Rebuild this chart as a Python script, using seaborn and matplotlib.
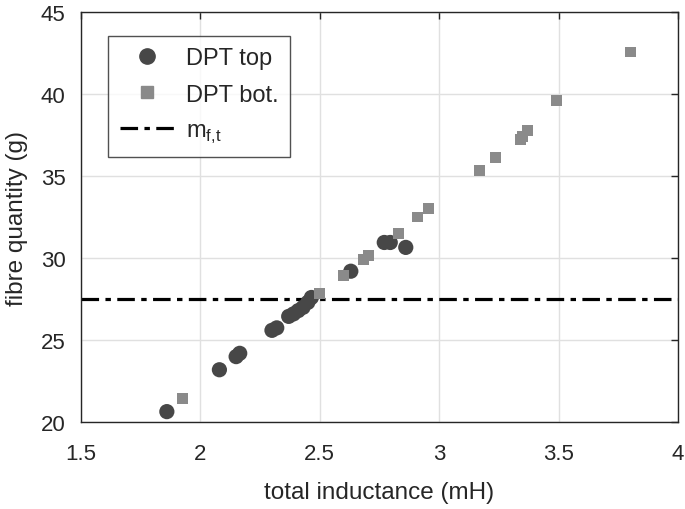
import matplotlib
matplotlib.use('Agg')
import matplotlib.pyplot as plt
import pandas as pd
import seaborn as sns

# Datos
top_inductance = [1.86, 2.08, 2.15, 2.165, 2.30, 2.32, 2.37, 2.39, 2.41, 2.43, 2.45, 2.465, 2.63, 2.77, 2.795, 2.86]
top_fibre = [20.65, 23.2, 24.0, 24.2, 25.6, 25.75, 26.45, 26.6, 26.8, 27.0, 27.3, 27.6, 29.2, 30.95, 30.95, 30.65]

bot_inductance = [1.925, 2.50, 2.60, 2.685, 2.705, 2.83, 2.91, 2.955, 3.17, 3.235, 3.34, 3.35, 3.37, 3.49, 3.80]
bot_fibre = [21.45, 27.85, 28.95, 29.9, 30.15, 31.5, 32.5, 33.0, 35.35, 36.1, 37.2, 37.4, 37.75, 39.6, 42.55]

m_ft = 27.5

df = pd.concat([
    pd.DataFrame({'inductance': top_inductance, 'fibre': top_fibre, 'serie': 'DPT top'}),
    pd.DataFrame({'inductance': bot_inductance, 'fibre': bot_fibre, 'serie': 'DPT bot.'}),
])

sns.set_style('white')
plt.rcParams['font.family'] = ['Liberation Sans', 'DejaVu Sans']
plt.rcParams['mathtext.fontset'] = 'custom'
plt.rcParams['mathtext.rm'] = 'Liberation Sans'

fig = plt.figure(figsize=(6.85, 5.10), dpi=100)
ax = fig.add_axes([0.118, 0.17, 0.872, 0.805])

dash = (0, (5.5, 2, 1.7, 2))

sns.scatterplot(data=df, x='inductance', y='fibre', hue='serie', style='serie',
                markers={'DPT top': 'o', 'DPT bot.': 's'},
                palette={'DPT top': '#474747', 'DPT bot.': '#8a8a8a'},
                size='serie', sizes={'DPT top': 120, 'DPT bot.': 62},
                linewidth=0, ax=ax, zorder=3, legend=False)

ax.axhline(m_ft, color='black', linewidth=2.3, linestyle=dash, zorder=2)

ax.set_xlim(1.5, 4)
ax.set_ylim(20, 45)
ax.set_xticks([1.5, 2, 2.5, 3, 3.5, 4])
ax.set_xticklabels(['1.5', '2', '2.5', '3', '3.5', '4'])
ax.set_yticks([20, 25, 30, 35, 40, 45])
ax.grid(True, color='#e0e0e0', linewidth=1)
ax.set_axisbelow(True)
ax.tick_params(direction='in', length=5, width=1, colors='#262626', labelsize=16,
               top=True, right=True)
ax.tick_params(axis='x', pad=15)
ax.tick_params(axis='y', pad=11)
for s in ax.spines.values():
    s.set_color('#262626')
    s.set_linewidth(1)

ax.set_xlabel('total inductance (mH)', fontsize=17.5, color='#262626', labelpad=12)
ax.set_ylabel('fibre quantity (g)', fontsize=17.5, color='#262626', labelpad=9)

# Leyenda manual
h1 = plt.Line2D([], [], marker='o', color='#474747', linestyle='none', markersize=11)
h2 = plt.Line2D([], [], marker='s', color='#8a8a8a', linestyle='none', markersize=8)
h3 = plt.Line2D([], [], color='black', linewidth=2.3, linestyle=dash)
leg = ax.legend([h1, h2, h3], ['DPT top', 'DPT bot.', r'm$_{\mathregular{f{,}t}}$'],
                loc='upper left', bbox_to_anchor=(0.045, 0.942), fontsize=17,
                frameon=True, fancybox=False, edgecolor='#262626', handlelength=2.3,
                handletextpad=0.5, labelspacing=0.6, borderpad=0.5, borderaxespad=0)
leg.get_frame().set_linewidth(1)

fig.savefig('out.png', dpi=100)
